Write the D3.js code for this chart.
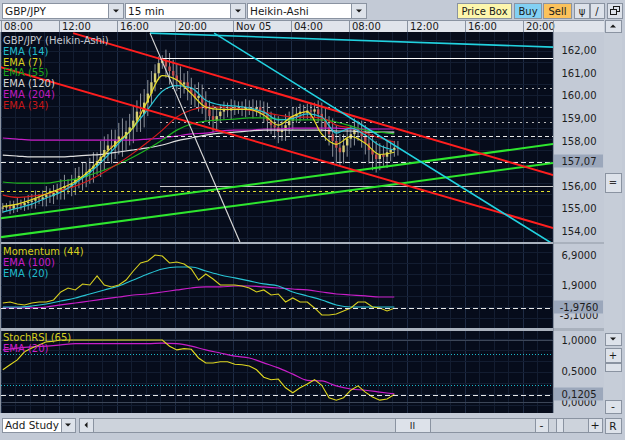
<!DOCTYPE html>
<html lang="en">
<head>
<meta charset="UTF-8">
<script src="https://d3js.org/d3.v7.min.js"></script>
<title>GBP/JPY 15 min Heikin-Ashi</title>
<style>
  body { margin: 0; background: #c3cad6; }
  svg { display: block; font-family: "DejaVu Sans", sans-serif; }
</style>
</head>
<body>
<svg width="625" height="440"></svg>
<script>
// ---- data (bars are 15 min, bar 0 = Nov 04 08:00) ----
const timeLabels = ['08:00', '12:00', '16:00', '20:00', 'Nov 05', '04:00', '08:00', '12:00', '16:00', '20:00'];
const barsPerLabel = 16;

const closes = [
  155.05, 155.10, 155.00, 155.15, 155.20, 155.15, 155.25, 155.30,
  155.35, 155.45, 155.40, 155.50, 155.60, 155.55, 155.70, 155.80,
  155.90, 156.00, 155.95, 156.10, 156.30, 156.45, 156.40, 156.60,
  156.75, 156.90, 157.10, 157.30, 157.60, 157.80, 157.70, 158.00,
  158.20, 158.10, 158.40, 158.60, 158.90, 159.30, 159.20, 159.70,
  160.10, 160.60, 161.00, 161.45, 161.55, 161.30, 161.10, 160.90,
  160.70, 160.50, 160.60, 160.30, 160.10, 159.90, 160.00, 159.70,
  159.40, 159.10, 158.90, 159.10, 159.30, 159.40, 159.35, 159.45,
  159.50, 159.45, 159.40, 159.50, 159.45, 159.40, 159.50, 159.35,
  159.20, 158.90, 158.70, 158.60, 158.40, 158.50, 158.70, 158.90,
  159.10, 159.20, 159.30, 159.25, 159.35, 159.30, 159.40, 159.20,
  158.90, 158.60, 158.30, 158.00, 157.70, 157.50, 157.80, 158.10,
  158.30, 158.50, 158.40, 158.20, 157.90, 157.60, 157.40, 157.20,
  157.40, 157.30, 157.50, 157.60, 157.70, 157.65
];
const wicks = [
  0.20, 0.15, 0.25, 0.20, 0.30, 0.20, 0.25, 0.30,
  0.30, 0.35, 0.20, 0.30, 0.40, 0.30, 0.35, 0.30,
  0.40, 0.50, 0.30, 0.40, 0.50, 0.40, 0.60, 0.45,
  0.50, 0.60, 0.40, 0.70, 0.60, 0.50, 0.70, 0.50,
  0.60, 0.80, 0.50, 0.60, 0.70, 0.50, 0.80, 0.60,
  0.60, 0.50, 0.40, 0.30, 0.25, 0.50, 0.60, 0.50,
  0.50, 0.60, 0.40, 0.50, 0.50, 0.40, 0.60, 0.50,
  0.50, 0.40, 0.50, 0.40, 0.30, 0.35, 0.30, 0.40,
  0.30, 0.25, 0.30, 0.35, 0.30, 0.40, 0.30, 0.30,
  0.40, 0.50, 0.40, 0.50, 0.50, 0.40, 0.50, 0.40,
  0.40, 0.30, 0.35, 0.30, 0.30, 0.35, 0.30, 0.40,
  0.50, 0.60, 0.50, 0.70, 0.70, 0.60, 0.50, 0.50,
  0.40, 0.50, 0.40, 0.50, 0.50, 0.60, 0.70, 0.60,
  0.50, 0.40, 0.50, 0.40, 0.30, 0.30
];

// moving averages, one reading per hour (every 4 bars)
const emaStep = 4;
const ema14 = [154.85, 155.02, 155.20, 155.47, 155.73, 156.13, 156.60, 157.20, 157.90, 158.60, 159.40, 160.20, 160.45, 160.35,
  159.80, 159.60, 159.55, 159.46, 159.28, 158.93, 159.00, 159.20, 159.06, 158.35, 158.57, 158.26, 157.80, 157.60];
const ema7 = [155.10, 155.20, 155.40, 155.65, 155.90, 156.20, 156.70, 157.40, 158.00, 158.60, 159.80, 160.90, 160.70, 160.10,
  159.50, 159.40, 159.40, 159.40, 159.15, 158.70, 159.10, 159.30, 158.30, 157.85, 158.20, 157.90, 157.40, 157.50];
const ema55 = [156.18, 156.13, 156.13, 156.13, 156.22, 156.31, 156.49, 156.71, 156.98, 157.29, 157.64, 158.04, 158.48, 158.75,
  158.88, 158.93, 158.97, 159.02, 159.02, 158.97, 158.93, 158.93, 158.93, 158.84, 158.66, 158.48, 158.39, 158.31];
const ema120 = [157.37, 157.33, 157.29, 157.29, 157.29, 157.33, 157.37, 157.42, 157.51, 157.60, 157.69, 157.82, 158.00, 158.13,
  158.26, 158.35, 158.39, 158.44, 158.48, 158.48, 158.48, 158.48, 158.48, 158.44, 158.44, 158.39, 158.39, 158.39];
const ema204 = [158.13, 158.08, 158.04, 158.04, 158.04, 158.04, 158.04, 158.04, 158.04, 158.04, 158.08, 158.13, 158.22, 158.31,
  158.35, 158.44, 158.48, 158.48, 158.53, 158.53, 158.57, 158.57, 158.57, 158.57, 158.53, 158.53, 158.53, 158.53];
const ema34 = [155.60, 155.50, 155.55, 155.64, 155.82, 156.00, 156.27, 156.62, 157.02, 157.46, 157.95, 158.48, 159.06, 159.37,
  159.50, 159.50, 159.46, 159.37, 159.28, 159.15, 159.06, 159.06, 159.02, 158.70, 158.57, 158.35, 158.13, 157.95];

// oscillators, one reading every 2 bars
const oscStep = 2;
const momentum = [-1.10, -0.93, -1.27, -1.43, -1.10, -0.93, -0.93, -0.60, 0.73, 1.40, 1.07, 2.07, 1.90, 3.40,
  1.90, 1.57, 1.90, 2.73, 4.23, 5.57, 5.90, 6.90, 6.73, 5.57, 5.73, 5.40, 4.57, 2.73, 3.73, 2.90, 1.90, 1.90,
  1.90, 1.73, 1.40, 0.73, 1.07, 0.23, 0.40, -0.93, -0.27, -0.93, -0.93, -1.93, -3.10, -3.10, -2.93, -2.43,
  -1.93, -0.93, -0.93, -1.77, -1.93, -2.43, -1.98];
const momEma100 = [-1.93, -1.93, -1.93, -1.77, -1.43, -1.10, -0.77, -0.43, -0.10, 0.23, 0.40, 0.73, 1.07, 1.40,
  1.57, 1.57, 1.73, 1.73, 1.57, 1.40, 1.23, 1.07, 0.73, 0.40, 0.23, 0.07, -0.10, -0.10];
const momEma20 = [-1.77, -1.77, -1.60, -1.27, -0.77, -0.27, 0.40, 1.07, 1.73, 2.73, 3.73, 4.57, 4.90, 4.90,
  4.23, 3.57, 3.07, 2.57, 2.07, 1.73, 0.73, 0.07, -0.60, -1.43, -1.77, -1.77, -1.77, -1.77];
const stochRsi = [0.52, 0.60, 0.68, 0.81, 0.87, 0.92, 0.97, 0.98, 1.00, 1.00, 1.00, 1.00, 1.00, 1.00, 1.00,
  1.00, 1.00, 1.00, 1.00, 1.00, 1.00, 1.00, 1.00, 0.90, 0.84, 0.86, 0.85, 0.71, 0.63, 0.63, 0.65, 0.65,
  0.61, 0.60, 0.58, 0.52, 0.40, 0.36, 0.37, 0.23, 0.15, 0.23, 0.29, 0.36, 0.27, 0.07, 0.03, 0.07, 0.19,
  0.26, 0.16, 0.08, 0.03, 0.05, 0.12];
const stochEma20 = [0.84, 0.87, 0.89, 0.90, 0.92, 0.94, 0.94, 0.94, 0.94, 0.94, 0.94, 0.95, 0.94, 0.90,
  0.84, 0.79, 0.74, 0.71, 0.63, 0.55, 0.45, 0.35, 0.34, 0.26, 0.21, 0.19, 0.16, 0.13];

// axis values (157,00 sits under the price box, so it is not listed)
const priceTicks = [162, 161, 160, 159, 158, 156, 155, 154];
const lastPrice = 157.07;
const momTicks = [6.9, 1.9, -3.1];
const momLast = -1.976;
const stochTicks = [1, 0.5, 0];
const stochLast = 0.1205;
const stochBands = [0.78, 0.27];

// drawn objects: horizontal levels (from bar 44) and trend lines [bar, price]
const levelStart = 44;
const solidLevels = [161.68];
const greyLevels = [156.02];
const dottedLevels = [160.35, 159.5, 158.85];
const dashedLevels = [158.23];
const supportLevel = 155.76;
const redLines = [[[19.9, 162.78], [152.3, 156.49]], [[-0.3, 161.28], [152.3, 154.14]]];
const cyanLines = [[[41.1, 162.78], [152.3, 162.16]], [[58.8, 162.78], [152.3, 153.43]]];
const whiteLines = [[[41.1, 162.78], [65.9, 153.52]]];
const greenLines = [[[-0.3, 154.57], [152.3, 157.86]], [[-0.3, 153.73], [152.3, 157.02]]];

// ---- drawing ----
const W = 625, H = 440;
const svg = d3.select('svg');
svg.append('rect').attr('width', W).attr('height', H).attr('fill', '#c3cad6');

const locale = d3.formatLocale({ decimal: ',', thousands: '.', grouping: [3], currency: ['', ''], minus: '-' });
const f2 = locale.format('.2f');
const f4 = locale.format('.4f');

const x = d3.scaleLinear().domain([0, 152.28]).range([1, 553]);
const yMain = d3.scaleLinear().domain([153.52, 162.83]).range([242, 32]);
const yMom = d3.scaleLinear().domain([-5.27, 8.73]).range([328, 244]);
const yStoch = d3.scaleLinear().domain([-0.177, 1.161]).range([413, 330]);

const panes = [
  { id: 'main', y: yMain, top: 32, bottom: 242 },
  { id: 'mom', y: yMom, top: 244, bottom: 328 },
  { id: 'stoch', y: yStoch, top: 331, bottom: 413 }
];

const defs = svg.append('defs');
panes.forEach(p => {
  defs.append('clipPath').attr('id', 'clip-' + p.id)
    .append('rect').attr('x', 1).attr('y', p.top).attr('width', 552).attr('height', p.bottom - p.top);
  svg.append('rect').attr('x', 1).attr('y', p.top).attr('width', 552).attr('height', p.bottom - p.top)
    .attr('fill', '#060c1b');
  p.g = svg.append('g').attr('clip-path', `url(#clip-${p.id})`);
  // grid
  const grid = p.g.append('g').attr('shape-rendering', 'crispEdges');
  d3.range(0, 153, 4).forEach(b => {
    grid.append('line').attr('x1', Math.round(x(b)) + 0.5).attr('x2', Math.round(x(b)) + 0.5)
      .attr('y1', p.top).attr('y2', p.bottom)
      .attr('stroke', b % barsPerLabel === 0 ? '#1e2b44' : '#131d31');
  });
  for (let yy = p.top + 8; yy < p.bottom; yy += 11) {
    grid.append('line').attr('x1', 1).attr('x2', 553).attr('y1', yy + 0.5).attr('y2', yy + 0.5)
      .attr('stroke', '#131d31');
  }
});

const [main, mom, stoch] = panes;

// candles
const cg = main.g.append('g');
closes.forEach((c, i) => {
  const o = i === 0 ? 155.0 : closes[i - 1];
  const hi = Math.max(o, c) + wicks[i], lo = Math.min(o, c) - wicks[i];
  const cx = x(i + 0.5);
  cg.append('line').attr('x1', cx).attr('x2', cx).attr('y1', yMain(hi)).attr('y2', yMain(lo))
    .attr('stroke', '#8d939c').attr('stroke-width', 1);
  const yt = yMain(Math.max(o, c)), yb = yMain(Math.min(o, c));
  cg.append('rect').attr('x', cx - 1.2).attr('width', 2.4)
    .attr('y', yt).attr('height', Math.max(1, yb - yt))
    .attr('fill', c >= o ? '#d6ce74' : '#c45050');
});

function series(g, y, data, step, color, width, curve) {
  const line = d3.line().x((d, i) => x(i * step + 0.5)).y(d => y(d)).curve(curve || d3.curveMonotoneX);
  g.append('path').datum(data).attr('d', line).attr('fill', 'none')
    .attr('stroke', color).attr('stroke-width', width || 1.2);
}

series(main.g, yMain, ema204, emaStep, '#c81ec8');
series(main.g, yMain, ema120, emaStep, '#e0e0e0');
series(main.g, yMain, ema55, emaStep, '#1eb41e');
series(main.g, yMain, ema34, emaStep, '#d21c1c');
series(main.g, yMain, ema14, emaStep, '#28c4d4');
series(main.g, yMain, ema7, emaStep, '#e6dc28');

// horizontal levels
function level(g, y, v, from, color, dash, width) {
  g.append('line').attr('x1', x(from)).attr('x2', 553).attr('y1', Math.round(y(v)) + 0.5).attr('y2', Math.round(y(v)) + 0.5)
    .attr('stroke', color).attr('stroke-width', width || 1).attr('stroke-dasharray', dash || null)
    .attr('shape-rendering', 'crispEdges');
}
solidLevels.forEach(v => level(main.g, yMain, v, levelStart, '#ffffff', null, 1.5));
greyLevels.forEach(v => level(main.g, yMain, v, levelStart, '#c8c8c8'));
dottedLevels.forEach(v => level(main.g, yMain, v, levelStart, '#b8b8b8', '2,4', 1.5));
dashedLevels.forEach(v => level(main.g, yMain, v, levelStart, '#e8e8e8', '4,3', 1.5));
level(main.g, yMain, lastPrice, 0, '#e8e8e8', '5,3', 1.5);
level(main.g, yMain, supportLevel, 0, '#e0e030', '3,3', 1.5);

// trend lines
function trend(lines, color, width) {
  lines.forEach(pts => {
    main.g.append('line')
      .attr('x1', x(pts[0][0])).attr('y1', yMain(pts[0][1]))
      .attr('x2', x(pts[1][0])).attr('y2', yMain(pts[1][1]))
      .attr('stroke', color).attr('stroke-width', width);
  });
}
trend(greenLines, '#2ee62e', 2);
trend(redLines, '#ff1e1e', 2);
trend(cyanLines, '#22d2e0', 1.6);
trend(whiteLines, '#d8d8d8', 1.2);

// momentum pane
series(mom.g, yMom, momEma100, emaStep, '#c81ec8');
series(mom.g, yMom, momEma20, emaStep, '#28c4d4');
series(mom.g, yMom, momentum, oscStep, '#d8d020', 1.1, d3.curveLinear);
level(mom.g, yMom, momLast, 0, '#e8e8e8', '5,3', 1.2);

// stoch pane
stochBands.forEach(v => level(stoch.g, yStoch, v, 0, '#1ab8c8', '1,2', 1.2));
[1, 0].forEach(v => level(stoch.g, yStoch, v, 0, '#3c4658'));
series(stoch.g, yStoch, stochEma20, emaStep, '#c81ec8');
series(stoch.g, yStoch, stochRsi, oscStep, '#e0d820', 1.1, d3.curveLinear);
level(stoch.g, yStoch, stochLast, 0, '#e8e8e8', '5,3', 1.2);

// legends
function legend(items, y0) {
  items.forEach((it, i) => {
    svg.append('text').attr('x', 3).attr('y', y0 + i * 10.8).attr('font-size', 10)
      .attr('fill', it[1]).text(it[0]);
  });
}
legend([['GBP/JPY (Heikin-Ashi)', '#c4c8d0'], ['EMA (14)', '#22bccc'], ['EMA (7)', '#d8d020'],
  ['EMA (55)', '#1ea81e'], ['EMA (120)', '#d4d4d4'], ['EMA (204)', '#c01cc0'], ['EMA (34)', '#c81818']], 44);
legend([['Momentum (44)', '#d8d020'], ['EMA (100)', '#c81ec8'], ['EMA (20)', '#22bccc']], 255);
legend([['StochRSI (65)', '#d8d020'], ['EMA (20)', '#c81ec8']], 341);

// pane separators
[[242, 2], [328, 3]].forEach(s => {
  svg.append('rect').attr('x', 0).attr('y', s[0]).attr('width', 604).attr('height', s[1]).attr('fill', '#a9b1bd');
});
svg.append('rect').attr('x', 553).attr('y', 32).attr('width', 1).attr('height', 381).attr('fill', '#8a93a1');
svg.append('rect').attr('x', 0).attr('y', 32).attr('width', 1).attr('height', 381).attr('fill', '#8a93a1');

// right axes: the box with the latest value is drawn over the labels, as in the source
function axisLabels(y, ticks, fmt, last) {
  ticks.forEach(t => {
    svg.append('text').attr('x', 579).attr('y', y(t)).attr('dy', '0.36em').attr('text-anchor', 'middle')
      .attr('font-size', 10).attr('fill', '#1c1c1c').text(fmt(t));
  });
  const cy = Math.round(y(last)) - 1;
  svg.append('rect').attr('x', 554).attr('y', cy - 6.5).attr('width', 49).attr('height', 13)
    .attr('fill', '#9ba7bb');
  svg.append('text').attr('x', 579).attr('y', cy).attr('dy', '0.36em').attr('text-anchor', 'middle')
    .attr('font-size', 10).attr('fill', '#1c1c1c').text(fmt(last));
}
axisLabels(yMain, priceTicks, f2, lastPrice);
axisLabels(yMom, momTicks, f4, momLast);
axisLabels(yStoch, stochTicks, f4, stochLast);

// ---- frame: toolbar, time bar, scrollbars ----
function btn(x0, y0, w, h, fill) {
  return svg.append('rect').attr('x', x0 + 0.5).attr('y', y0 + 0.5).attr('width', w).attr('height', h)
    .attr('fill', fill).attr('stroke', '#8a93a1');
}
function label(x0, y0, s, size, anchor) {
  return svg.append('text').attr('x', x0).attr('y', y0).attr('font-size', size || 10.5)
    .attr('fill', '#1a1a1a').attr('text-anchor', anchor || 'start').text(s);
}
function tri(cx, cy, dir) {
  const p = dir === 'down' ? `M${cx - 3},${cy - 1.5}L${cx + 3},${cy - 1.5}L${cx},${cy + 1.5}Z`
    : dir === 'up' ? `M${cx - 3},${cy + 1.5}L${cx + 3},${cy + 1.5}L${cx},${cy - 1.5}Z`
    : `M${cx + 1.5},${cy - 3}L${cx + 1.5},${cy + 3}L${cx - 1.5},${cy}Z`;
  svg.append('path').attr('d', p).attr('fill', '#1a1a1a');
}

[['GBP/JPY', 2, 106], ['15 min', 125, 105], ['Heikin-Ashi', 247, 104]].forEach(d => {
  btn(d[1], 3, d[2], 15, '#ffffff');
  label(d[1] + 3, 14.5, d[0]);
  btn(d[1] + d[2], 3, 15, 15, '#dde2ea');
  tri(d[1] + d[2] + 8, 11, 'down');
});
[['Price Box', 457, 54, '#fdf6ac'], ['Buy', 514, 27, '#82d0f4'], ['Sell', 543, 28, '#fbc25c']].forEach(d => {
  btn(d[1], 3, d[2], 15, d[3]);
  label(d[1] + d[2] / 2 + 0.5, 14.5, d[0], 10, 'middle');
});
btn(574, 3, 15, 15, '#dde2ea'); label(582, 14.5, 'ψ', 10, 'middle');
btn(590, 3, 14, 15, '#dde2ea'); label(597, 14.5, '/', 10, 'middle');
btn(607, 3, 15, 15, '#dde2ea');
svg.append('rect').attr('x', 613.5).attr('y', 6.5).attr('width', 6).attr('height', 5).attr('fill', 'none').attr('stroke', '#1a1a1a');
svg.append('rect').attr('x', 610.5).attr('y', 9.5).attr('width', 6).attr('height', 5).attr('fill', '#dde2ea').attr('stroke', '#1a1a1a');

// time bar
svg.append('rect').attr('x', 0).attr('y', 20).attr('width', 604).attr('height', 12).attr('fill', '#e0e4eb');
svg.append('line').attr('x1', 0).attr('x2', 604).attr('y1', 20.5).attr('y2', 20.5).attr('stroke', '#8a93a1');
timeLabels.forEach((t, i) => {
  const tx = Math.round(x(i * barsPerLabel));
  svg.append('line').attr('x1', tx + 0.5).attr('x2', tx + 0.5).attr('y1', 20).attr('y2', 32).attr('stroke', '#8a93a1');
  svg.append('text').attr('x', tx + 3).attr('y', 30).attr('font-size', 10).attr('fill', '#1a1a1a').text(t);
});
svg.append('line').attr('x1', 553.5).attr('x2', 553.5).attr('y1', 20).attr('y2', 32).attr('stroke', '#8a93a1');

// right scroll column
svg.append('rect').attr('x', 604).attr('y', 20).attr('width', 18).attr('height', 393).attr('fill', '#c6cdd8');
btn(605, 20, 16, 12, '#dde2ea'); tri(613, 26, 'up');
btn(605, 173, 16, 19, '#dde2ea');
svg.append('text').attr('x', 613).attr('y', 186).attr('font-size', 10).attr('text-anchor', 'middle').attr('fill', '#333').text('=');
btn(605, 333, 16, 12, '#dde2ea'); tri(613, 339, 'down');
btn(605, 348, 16, 14, '#dde2ea'); label(613, 359, '+', 10, 'middle');
btn(605, 363, 16, 8, '#dde2ea');
btn(605, 400, 16, 13, '#dde2ea'); label(613, 410, '-', 11, 'middle');

// bottom bar
btn(2, 418, 59, 14, '#ffffff'); label(5, 429, 'Add Study');
btn(61, 418, 14, 14, '#dde2ea'); tri(68, 425, 'down');
btn(79, 418, 14, 14, '#dde2ea'); tri(86, 425, 'left');
btn(93, 418, 442, 14, '#cdd3dc');
btn(395, 418, 35, 14, '#dde2ea'); label(412.5, 429, 'II', 9, 'middle');
btn(535, 418, 13, 14, '#dde2ea'); label(541.5, 429, '-', 11, 'middle');
btn(548, 418, 40, 14, '#cdd3dc');
btn(556, 418, 7, 14, '#dde2ea');
btn(588, 418, 14, 14, '#dde2ea'); label(595, 429, '+', 11, 'middle');
btn(605, 418, 16, 15, '#dde2ea'); label(613, 430, 'R', 10.5, 'middle');
</script>
</body>
</html>
